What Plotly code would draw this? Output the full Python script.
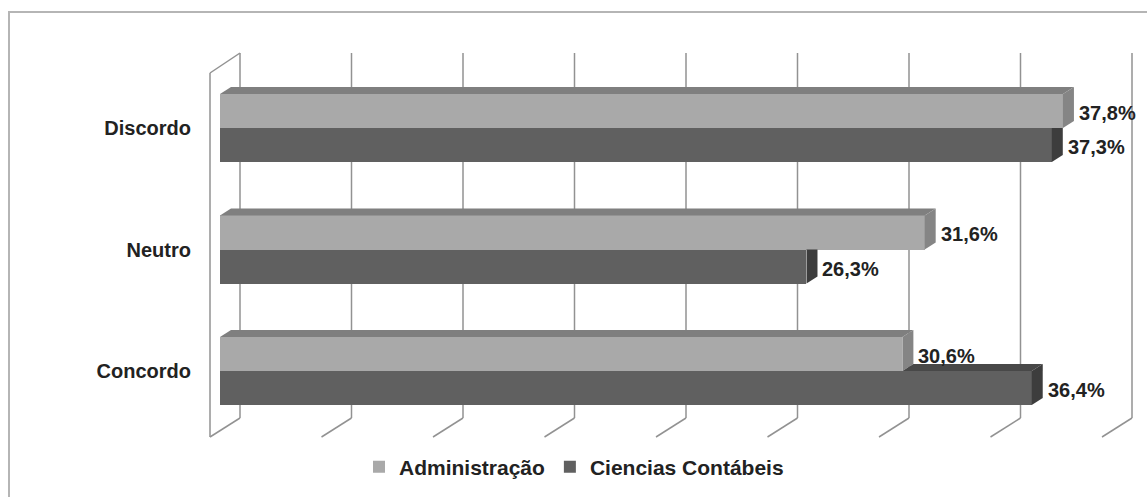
import plotly.graph_objects as go

# ---------------- data ----------------
categories = ["Concordo", "Neutro", "Discordo"]
administracao = [30.6, 31.6, 37.8]
contabeis = [36.4, 26.3, 37.3]
grid_values = [0, 5, 10, 15, 20, 25, 30, 35, 40]
series_names = ["Administração", "Ciencias Contábeis"]

# ---------------- styling / geometry constants (pixels) ----------------
W, H = 1147, 497
L = 196                 # left margin (plot area start)
XS = 22.3               # px per percent
X0PX = 220              # pixel of 0% on bar front plane
YS = 121.5              # px per category step
Y2PX = 128              # pixel centre of top category
BAR_W = 0.28            # bar thickness (category units)
DXP, DYP = 11, 7        # bar depth offset (px)
BACK_DX, BACK_TOP, BACK_BOT = 20, 53, 418   # back wall
FRONT_DX, FRONT_TOP, FRONT_BOT = -10, 73, 437  # floor/left-wall front edge

LIGHT, DARK = "#a9a9a9", "#606060"
LIGHT_TOP, LIGHT_SIDE = "#7f7f7f", "#858585"
DARK_TOP, DARK_SIDE = "#484848", "#3d3d3d"
GRID = "#929292"
TXT = "#222222"
FONT = "Liberation Sans"


def ypx(py):
    return 2 - (py - Y2PX) / YS


def xoff(px):
    return px / XS


def yoff(px):
    return px / YS


ddx, ddy = xoff(DXP), yoff(DYP)
yidx = list(range(len(categories)))

fig = go.Figure()

# front faces of bars
fig.add_trace(go.Bar(y=yidx, x=administracao, orientation="h", name=series_names[0],
                     marker=dict(color=LIGHT, line=dict(width=0)),
                     offset=0, width=BAR_W, hoverinfo="x+name"))
fig.add_trace(go.Bar(y=yidx, x=contabeis, orientation="h", name=series_names[1],
                     marker=dict(color=DARK, line=dict(width=0)),
                     offset=-BAR_W, width=BAR_W, hoverinfo="x+name"))


def poly(xs, ys, color):
    fig.add_trace(go.Scatter(x=xs + [xs[0]], y=ys + [ys[0]], mode="lines", fill="toself",
                             fillcolor=color, line=dict(width=0, color=color),
                             hoverinfo="skip", showlegend=False))


for i, (a, c) in enumerate(zip(administracao, contabeis)):
    yt = i + BAR_W      # top of light bar
    ym = i              # boundary
    yb = i - BAR_W      # bottom of dark bar
    # light top face
    poly([0, a, a + ddx, ddx], [yt, yt, yt + ddy, yt + ddy], LIGHT_TOP)
    # light side face
    poly([a, a + ddx, a + ddx, a], [yt, yt + ddy, ym + ddy, ym], LIGHT_SIDE)
    if c > a:
        # visible part of dark top face
        poly([a, c, c + ddx, a + ddx], [ym, ym, ym + ddy, ym + ddy], DARK_TOP)
        poly([c, c + ddx, c + ddx, c], [ym, ym + ddy, yb + ddy, yb], DARK_SIDE)
    else:
        poly([c, c + ddx, c + ddx, c], [ym, ym, yb + ddy, yb], DARK_SIDE)

# walls / gridlines (drawn below traces)
shapes = []
bx, fx = xoff(BACK_DX), xoff(FRONT_DX)
for g in grid_values:
    shapes.append(dict(type="line", xref="x", yref="y", layer="below",
                       x0=g + bx, x1=g + bx, y0=ypx(BACK_BOT), y1=ypx(BACK_TOP),
                       line=dict(color=GRID, width=1.5)))
    shapes.append(dict(type="line", xref="x", yref="y", layer="below",
                       x0=g + bx, x1=g + fx, y0=ypx(BACK_BOT), y1=ypx(FRONT_BOT),
                       line=dict(color=GRID, width=1.5)))
g0 = grid_values[0]
shapes.append(dict(type="line", xref="x", yref="y", layer="below",
                   x0=g0 + fx, x1=g0 + fx, y0=ypx(FRONT_BOT), y1=ypx(FRONT_TOP),
                   line=dict(color=GRID, width=1.5)))
shapes.append(dict(type="line", xref="x", yref="y", layer="below",
                   x0=g0 + fx, x1=g0 + bx, y0=ypx(FRONT_TOP), y1=ypx(BACK_TOP),
                   line=dict(color=GRID, width=1.5)))


def paper_x(px):
    return (px - L) / (W - L)


def paper_y(py):
    return 1 - py / H


# outer chart border
shapes.append(dict(type="rect", xref="paper", yref="paper", layer="below",
                   x0=paper_x(9), x1=paper_x(W + 20), y0=paper_y(H + 20), y1=paper_y(12),
                   line=dict(color="#b5b5b5", width=2), fillcolor="rgba(0,0,0,0)"))

# value labels
annotations = []


def fmt(v):
    return f"{v:.1f}%".replace(".", ",")


for i, (a, c) in enumerate(zip(administracao, contabeis)):
    annotations.append(dict(x=a, y=i + BAR_W / 2, xref="x", yref="y", text=fmt(a),
                            showarrow=False, xanchor="left", yanchor="middle",
                            xshift=DXP + 3, yshift=-2,
                            font=dict(family=FONT, size=20, color=TXT, weight="bold")))
    annotations.append(dict(x=c, y=i - BAR_W / 2, xref="x", yref="y", text=fmt(c),
                            showarrow=False, xanchor="left", yanchor="middle",
                            xshift=DXP + 3, yshift=-2,
                            font=dict(family=FONT, size=20, color=TXT, weight="bold")))

fig.update_layout(
    width=W, height=H,
    margin=dict(l=L, r=0, t=0, b=0, pad=0),
    paper_bgcolor="white", plot_bgcolor="white",
    showlegend=True,
    legend=dict(orientation="h", x=paper_x(574), xanchor="center",
                y=paper_y(467), yanchor="middle",
                font=dict(family=FONT, size=21, color=TXT, weight="bold"),
                itemwidth=30, traceorder="normal", bgcolor="rgba(0,0,0,0)"),
    xaxis=dict(range=[(L - X0PX) / XS, (W - X0PX) / XS], showgrid=False, zeroline=False,
               showticklabels=False, showline=False, fixedrange=True),
    yaxis=dict(range=[ypx(H), ypx(0)], tickmode="array", tickvals=yidx, ticktext=categories,
               showgrid=False, zeroline=False, showline=False, ticks="",
               ticklabelstandoff=4,
               tickfont=dict(family=FONT, size=20, color=TXT, weight="bold"), fixedrange=True),
    shapes=shapes, annotations=annotations,
    bargap=0,
)

fig.write_html("out.html")
